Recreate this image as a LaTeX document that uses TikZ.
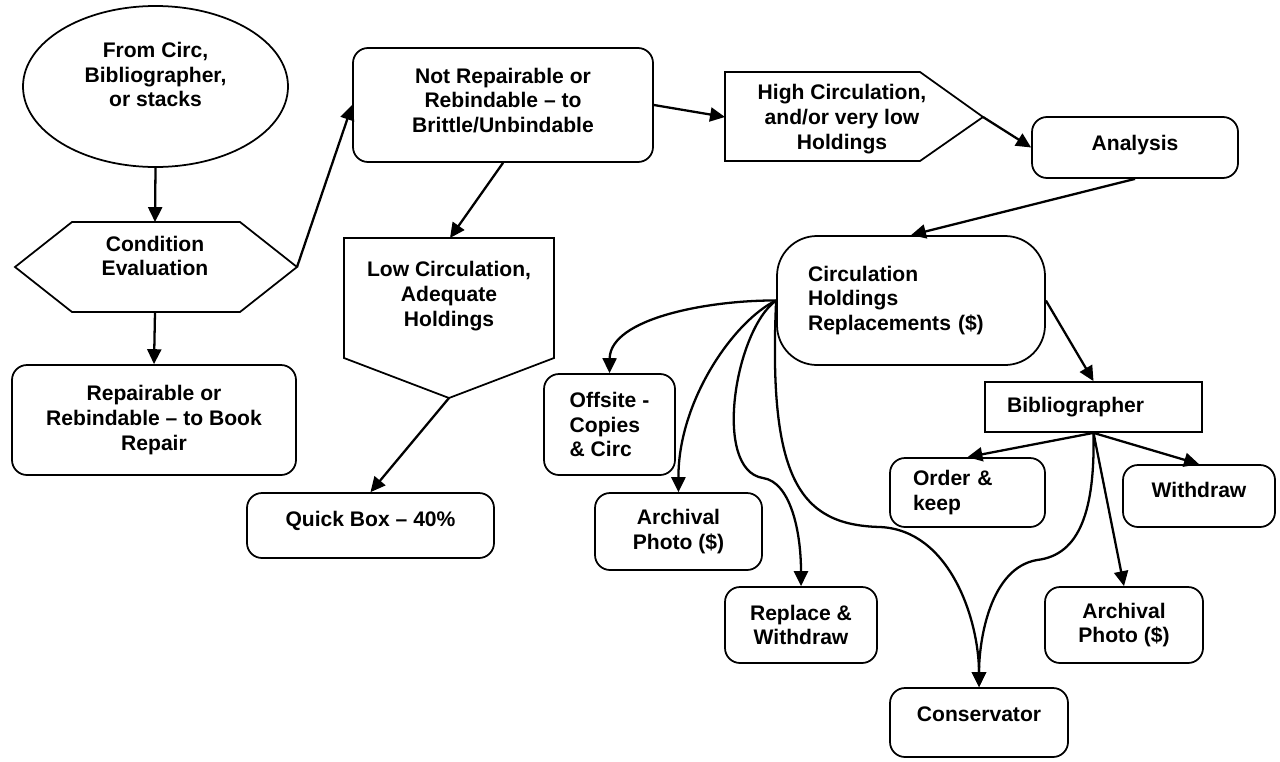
\documentclass[tikz,border=0pt]{standalone}
\usepackage{fontspec}
\setmainfont{Liberation Sans}
\usetikzlibrary{shapes.geometric,arrows.meta}
\tikzset{
  box/.style={draw,line width=1pt,rounded corners=0.3cm,align=center,inner sep=0pt},
  sz/.style 2 args={minimum width=#1*0.02cm,minimum height=#2*0.02cm},
  line/.style={line width=1pt},
  arr/.style={line width=1.3pt,-{Triangle[length=8.5pt,width=8pt]}},
}

\begin{document}
\begin{tikzpicture}[x=0.02cm,y=-0.02cm,font=\fontsize{12}{14}\selectfont\bfseries]
\useasboundingbox (0,0) rectangle (1280,761);
% left column
\node[ellipse,draw,line,inner sep=0pt,align=center,sz={265}{161},text depth=13.6pt] (src) at (155.5,86.5) {From Circ,\\Bibliographer,\\or stacks};
\draw[line] (15,267) -- (72,222) -- (240,222) -- (297,267) -- (240,312) -- (72,312) -- cycle;
\node[align=center] (eval) at (155,256) {Condition\\Evaluation};
\coordinate (eval-n) at (155,222); \coordinate (eval-s) at (155,312); \coordinate (eval-e) at (297,267);
\node[box,sz={284}{110}] (repair) at (154,420) {Repairable or\\Rebindable -- to Book\\Repair};
% middle
\node[box,sz={300}{114},text depth=5.6pt] (notrep) at (503,105) {Not Repairable or\\Rebindable -- to\\Brittle/Unbindable};
\draw[line] (344,238) -- (554,238) -- (554,358) -- (449,398) -- (344,358) -- cycle;
\node[align=center] (lowc) at (449,296) {Low Circulation,\\Adequate\\Holdings};
\coordinate (lowc-n) at (450,238); \coordinate (lowc-s) at (449,398);
\node[box,sz={247}{65},text height=9pt,text depth=8.4pt] (quick) at (370.5,525.5) {Quick Box -- 40\%};
\draw[line] (725,72) -- (920,72) -- (983,117) -- (920,161) -- (725,161) -- cycle;
\node[align=center] (highc) at (842,119) {High Circulation,\\and/or very low\\Holdings};
\coordinate (highc-w) at (725,117); \coordinate (highc-e) at (983,117);
% right
\node[box,sz={206}{61},text height=9pt,text depth=6pt] (analysis) at (1135,147.5) {Analysis};
\node[box,rounded corners=0.8cm,sz={268}{129},text width=4.12cm,align=left] (circ) at (911,300.5) {Circulation\\Holdings\\Replacements (\$)};
\node[box,sharp corners,sz={217}{50},text width=3.46cm,align=left] (bib) at (1093.5,407) {Bibliographer};
\node[box,sz={155}{69},text width=2.18cm,align=left] (order) at (967.5,492.5) {Order \&\\keep};
\node[box,sz={152}{62},text height=9pt,text depth=7.2pt] (withdraw) at (1199,496) {Withdraw};
\node[box,sz={158}{76}] (arch2) at (1124,625) {Archival\\Photo (\$)};
\node[box,sz={178}{69},text height=9pt,text depth=10.6pt] (cons) at (979,722.5) {Conservator};
\node[box,sz={131}{101},align=left] (offsite) at (609.5,424.5) {Offsite -\\Copies\\\& Circ};
\node[box,sz={167}{77}] (arch1) at (678.5,531.5) {Archival\\Photo (\$)};
\node[box,sz={152}{76}] (replace) at (801,625) {Replace \&\\Withdraw};
% connectors
\draw[arr] (src.south) -- (eval-n);
\draw[arr] (eval-s) -- (repair.north);
\draw[arr] (eval-e) -- (notrep.west);
\draw[arr] (notrep.east) -- (highc-w);
\draw[arr] (notrep.south) -- (lowc-n);
\draw[arr] (lowc-s) -- (quick.north);
\draw[arr] (highc-e) -- (analysis.west);
\draw[arr] (analysis.south) -- (circ.north);
\draw[arr] (circ.east) -- (bib.north);
\draw[arr] (circ.west) .. controls (710,300) and (610,318) .. (offsite.north);
\draw[arr] (circ.west) .. controls (735,320) and (678,400) .. (arch1.north);
\draw[arr] (circ.west) .. controls (735,330) and (712,470) .. (763,478) .. controls (790,482) and (801,530) .. (replace.north);
\draw[arr] (circ.west) .. controls (768,480) and (800,525) .. (880,527) .. controls (950,530) and (979,620) .. (cons.north);
\draw[arr] (bib.south) -- (order.north);
\draw[arr] (bib.south) -- (withdraw.north);
\draw[arr] (bib.south) -- (arch2.north);
\draw[arr] (bib.south) .. controls (1095,510) and (1080,555) .. (1037,560) .. controls (990,568) and (979,640) .. (cons.north);
\end{tikzpicture}
\end{document}
